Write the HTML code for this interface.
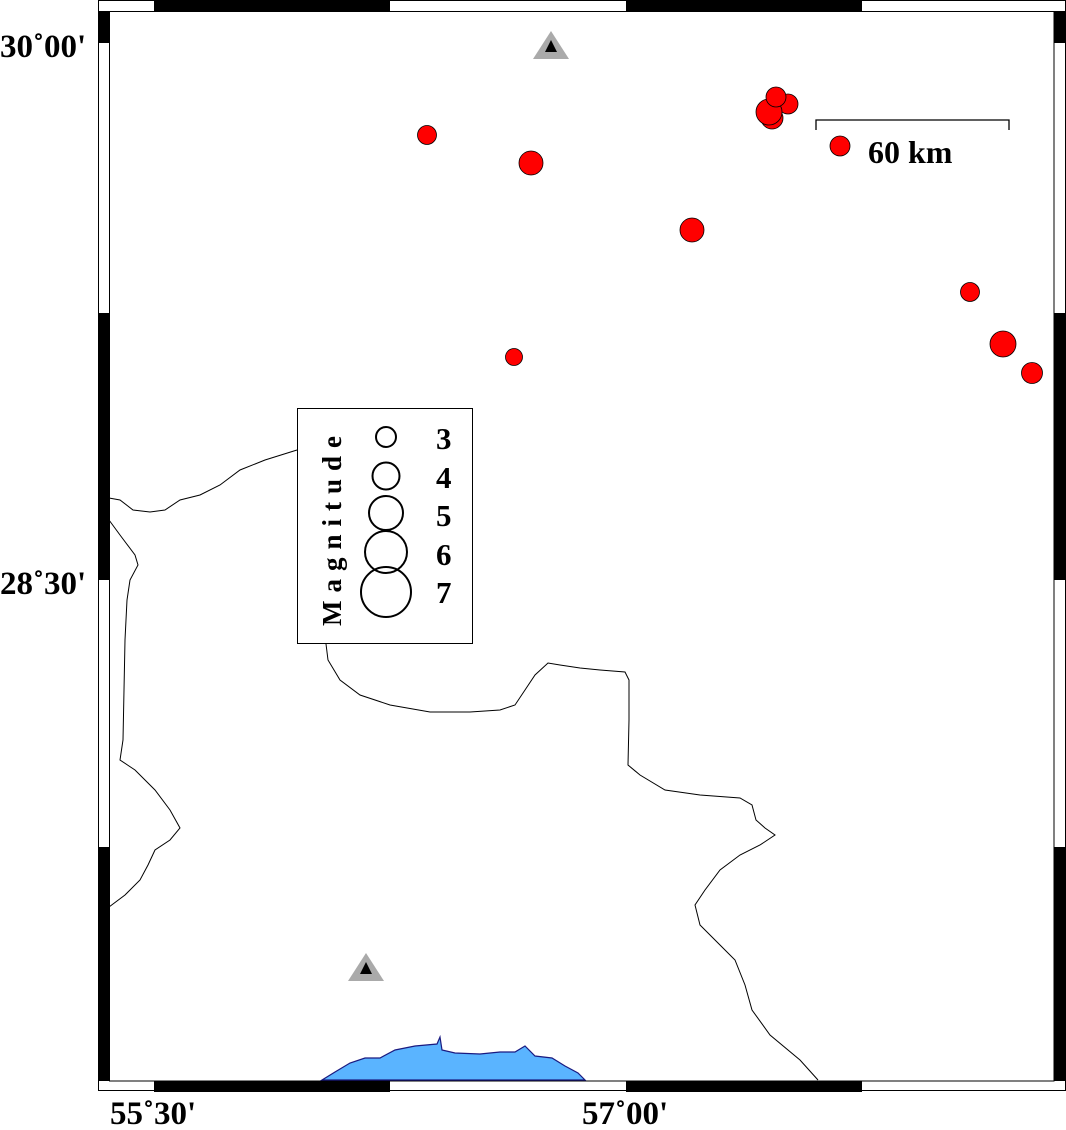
<!DOCTYPE html>
<html><head><meta charset="utf-8"><style>
html,body{margin:0;padding:0;background:#fff;}
svg{display:block;}
text{font-family:"Liberation Serif",serif;font-weight:bold;}
</style></head><body>
<svg width="1066" height="1130" viewBox="0 0 1066 1130" xmlns="http://www.w3.org/2000/svg">
<rect width="1066" height="1130" fill="#fff"/>
<rect x="98.5" y="0.5" width="967" height="1090" fill="#fff" stroke="#000" stroke-width="1"/>
<g fill="#000">
<rect x="154" y="0" width="236" height="11"/><rect x="626" y="0" width="236" height="11"/>
<rect x="154" y="1081" width="236" height="11"/><rect x="626" y="1081" width="236" height="11"/>
<rect x="98" y="11" width="11" height="32"/><rect x="98" y="313" width="11" height="267"/><rect x="98" y="847" width="11" height="234"/>
<rect x="1054" y="11" width="12" height="32"/><rect x="1054" y="313" width="12" height="267"/><rect x="1054" y="847" width="12" height="234"/>
</g>
<rect x="109.5" y="11.5" width="944.5" height="1069.5" fill="none" stroke="#000" stroke-width="1"/>
<g fill="none" stroke="#000" stroke-width="1">
<path d="M109,498 L120,500 L133,510 L150,512 L165,510 L180,500 L200,495 L220,485 L240,470 L265,460 L297,450"/>
<path d="M109,520 L120,535 L135,555 L138,565 L130,580 L127,600 L125,640 L124,690 L123,740 L120,760 L135,770 L155,790 L170,810 L180,828 L170,840 L155,850 L148,865 L140,880 L125,895 L109,907"/>
<path d="M326,644 L328,660 L340,680 L360,695 L390,705 L430,712 L470,712 L500,710 L515,705 L525,690 L535,675 L548,663 L560,665 L580,668 L600,670 L625,672 L629,680 L629,720 L628,765 L640,775 L665,790 L700,795 L740,798 L752,805 L756,820 L765,828 L775,835 L760,845 L740,855 L720,870 L705,890 L695,905 L700,925 L720,945 L735,960 L745,985 L752,1010 L770,1035 L800,1060 L818,1080"/>
</g>
<path d="M322,1080 L335,1072 L350,1063 L365,1058 L380,1058 L395,1050 L415,1046 L437,1044 L440,1037 L442,1050 L455,1053 L480,1054 L500,1052 L515,1052 L525,1046 L535,1056 L552,1058 L565,1066 L578,1073 L585,1080 Z" fill="#5ab4ff" stroke="#1a1a80" stroke-width="1.2"/>
<g font-size="33" fill="#000">
<text x="0" y="57">30˚00'</text>
<text x="0" y="594">28˚30'</text>
<text x="110" y="1124">55˚30'</text>
<text x="582" y="1124">57˚00'</text>
</g>
<polygon points="551,31 533,59 569,59" fill="#aaa"/><polygon points="551,40 545,52 557,52" fill="#000"/>
<polygon points="366,953 348,981 384,981" fill="#aaa"/><polygon points="366,962 360,974 372,974" fill="#000"/>
<g fill="#ff0000" stroke="#000" stroke-width="0.8">
<circle cx="427" cy="135" r="9.5"/>
<circle cx="531" cy="163" r="12"/>
<circle cx="692" cy="230" r="12"/>
<circle cx="514" cy="357" r="8.5"/>
<circle cx="772" cy="118" r="11"/>
<circle cx="788" cy="104" r="10"/>
<circle cx="769" cy="112" r="13"/>
<circle cx="776" cy="97" r="10"/>
<circle cx="840" cy="146" r="10"/>
<circle cx="970" cy="292" r="9.5"/>
<circle cx="1003" cy="344" r="13"/>
<circle cx="1032" cy="373" r="10.5"/>
</g>
<path d="M816,130 L816,120 L1009,120 L1009,130" fill="none" stroke="#000" stroke-width="1.3"/>
<text x="868" y="163" font-size="32">60 km</text>
<rect x="297.5" y="408.5" width="175" height="235" fill="#fff" stroke="#000" stroke-width="1"/>
<text transform="translate(341,626) rotate(-90)" font-size="27" letter-spacing="8">Magnitude</text>
<g fill="none" stroke="#000" stroke-width="2">
<circle cx="386" cy="437" r="10"/>
<circle cx="386" cy="476" r="13.5"/>
<circle cx="386" cy="513" r="17"/>
<circle cx="386" cy="552" r="21"/>
<circle cx="386" cy="592" r="25"/>
</g>
<g font-size="31"><text x="436" y="449">3</text><text x="436" y="488">4</text><text x="436" y="526">5</text><text x="436" y="565">6</text><text x="436" y="603">7</text></g>
</svg>
</body></html>
